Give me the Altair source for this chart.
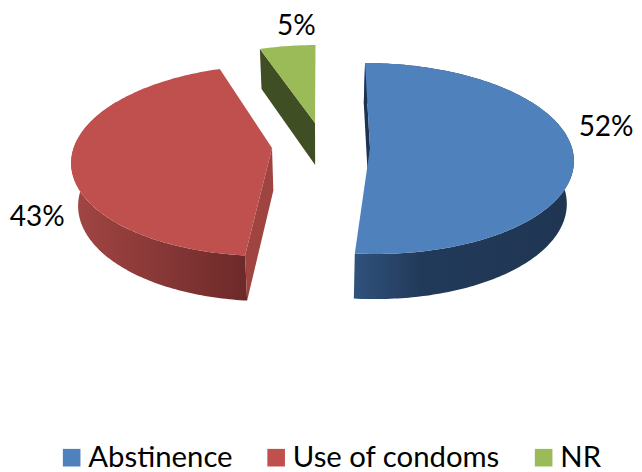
import math
import altair as alt

CATEGORIES = ["Abstinence", "Use of condoms", "NR"]
VALUES = [51.5, 43.4, 5.1]
FACE_COLORS = ["#4f81bd", "#c0504d", "#9bbb59"]

FONT = "Lato"
PAGE = 8
W, H = 634, 472
VX = 320        # horizontal vanishing point of the 3D view
K = -0.11       # perspective strength
RY = 94.3
# layout of each exploded slice: x shift, y centre, x radius, apex y correction
SLICE = [
    dict(dx=50, cy=148, rx=202, apex=0),
    dict(dx=-48, cy=150, rx=199, apex=-2),
    dict(dx=-5, cy=130, rx=195, apex=-7),
]
LABEL_OFFSET = [(33, -24), (-34, 57), (9, -19)]


def rim(s, t):
    u, v = math.sin(t), -math.cos(t)
    den = 1 + K * v
    return (VX + (s["dx"] + s["rx"] * u) / den, s["cy"] + RY * v / den)


def apex(s):
    return (VX + s["dx"], s["cy"] + s["apex"])


def drop(p):
    return (VX + (p[0] - VX) * 0.972, p[1] * 1.025 + 38.8)


def arc(s, a, b):
    n = max(8, int(abs(b - a) * 60))
    return [rim(s, a + (b - a) * i / n) for i in range(n + 1)]


def feature(points, name):
    ring = [list(p) for p in points] + [list(points[0])]
    return {
        "type": "Feature",
        "geometry": {"type": "Polygon", "coordinates": [ring]},
        "properties": {"name": name},
    }


total = sum(VALUES)
angles = []
acc = 0.0
for v in VALUES:
    angles.append((acc / total * 2 * math.pi, (acc + v) / total * 2 * math.pi))
    acc += v

PROJ = dict(type="identity", scale=1, translate=[-PAGE, -PAGE])


def hgrad(*stops):
    return alt.Gradient(
        gradient="linear",
        x1=0, x2=1, y1=0, y2=0,
        stops=[alt.GradientStop(offset=o, color=c) for o, c in stops],
    )


def shape(features, fill):
    return (
        alt.Chart(alt.Data(values=features))
        .mark_geoshape(filled=True, fill=fill, strokeWidth=0)
        .project(**PROJ)
    )


layers = []

# Blue
s, (a, b) = SLICE[0], angles[0]
outer = arc(s, a, b)
layers.append(shape([feature(outer + [drop(p) for p in reversed(outer)], "w")],
                    hgrad((0, "#30527c"), (0.3, "#223a5a"), (1, "#1f3552"))))
start_wall = [rim(s, a), apex(s), drop(apex(s)), drop(rim(s, a))]
layers.append(shape([feature(start_wall, "w")], "#1c3250"))

# Red
s, (a, b) = SLICE[1], angles[1]
outer = arc(s, a, a + (b - a) * 0.75)
layers.append(shape([feature(outer + [drop(p) for p in reversed(outer)], "w")],
                    hgrad((0, "#a24644"), (0.88, "#732d2c"), (1, "#6c2a29"))))
cut_wall = [apex(s), rim(s, a), drop(rim(s, a)), drop(apex(s))]
layers.append(shape([feature(cut_wall, "w")], "#a04442"))

# Green
s, (a, b) = SLICE[2], angles[2]
end_wall = [rim(s, a), apex(s), drop(apex(s)), drop(rim(s, a))]
layers.append(shape([feature(end_wall, "w")], "#404e24"))

# Top faces
faces = []
for cat, s, (a, b) in zip(CATEGORIES, SLICE, angles):
    faces.append(feature([apex(s)] + arc(s, a, b), cat))

legend = alt.Legend(
    title=None,
    orient="none",
    legendX=49,
    legendY=435,
    direction="horizontal",
    columns=3,
    symbolType="square",
    symbolSize=310,
    symbolStrokeWidth=0,
    symbolOpacity=1,
    labelFont=FONT,
    labelFontSize=29.3,
    labelColor="#000000",
    labelOffset=2,
    labelLimit=320,
    columnPadding=28.5,
    padding=0,
)

layers.append(
    alt.Chart(alt.Data(values=faces))
    .mark_geoshape(filled=True, strokeWidth=0)
    .encode(
        color=alt.Color(
            "properties.name:N",
            scale=alt.Scale(domain=CATEGORIES, range=FACE_COLORS),
            legend=legend,
        )
    )
    .project(**PROJ)
)

# Percentage labels
rows = []
for v, s, (a, b), off in zip(VALUES, SLICE, angles, LABEL_OFFSET):
    px, py = rim(s, (a + b) / 2)
    rows.append({"px": px + off[0], "py": py + off[1], "label": f"{round(v)}%"})

layers.append(
    alt.Chart(alt.Data(values=rows))
    .mark_text(font=FONT, fontSize=28, color="#000000", align="center", baseline="middle")
    .encode(
        x=alt.X("px:Q", scale=alt.Scale(domain=[PAGE, W], nice=False, zero=False), axis=None),
        y=alt.Y("py:Q", scale=alt.Scale(domain=[H, PAGE], nice=False, zero=False), axis=None),
        text="label:N",
    )
)

chart = (
    alt.layer(*layers)
    .properties(
        width=W - PAGE,
        height=H - PAGE,
        padding=0,
        autosize=alt.AutoSizeParams(type="none"),
        background="#ffffff",
    )
    .configure_view(stroke=None)
)

chart.save("out.html", embed_options={"renderer": "svg", "actions": False})
